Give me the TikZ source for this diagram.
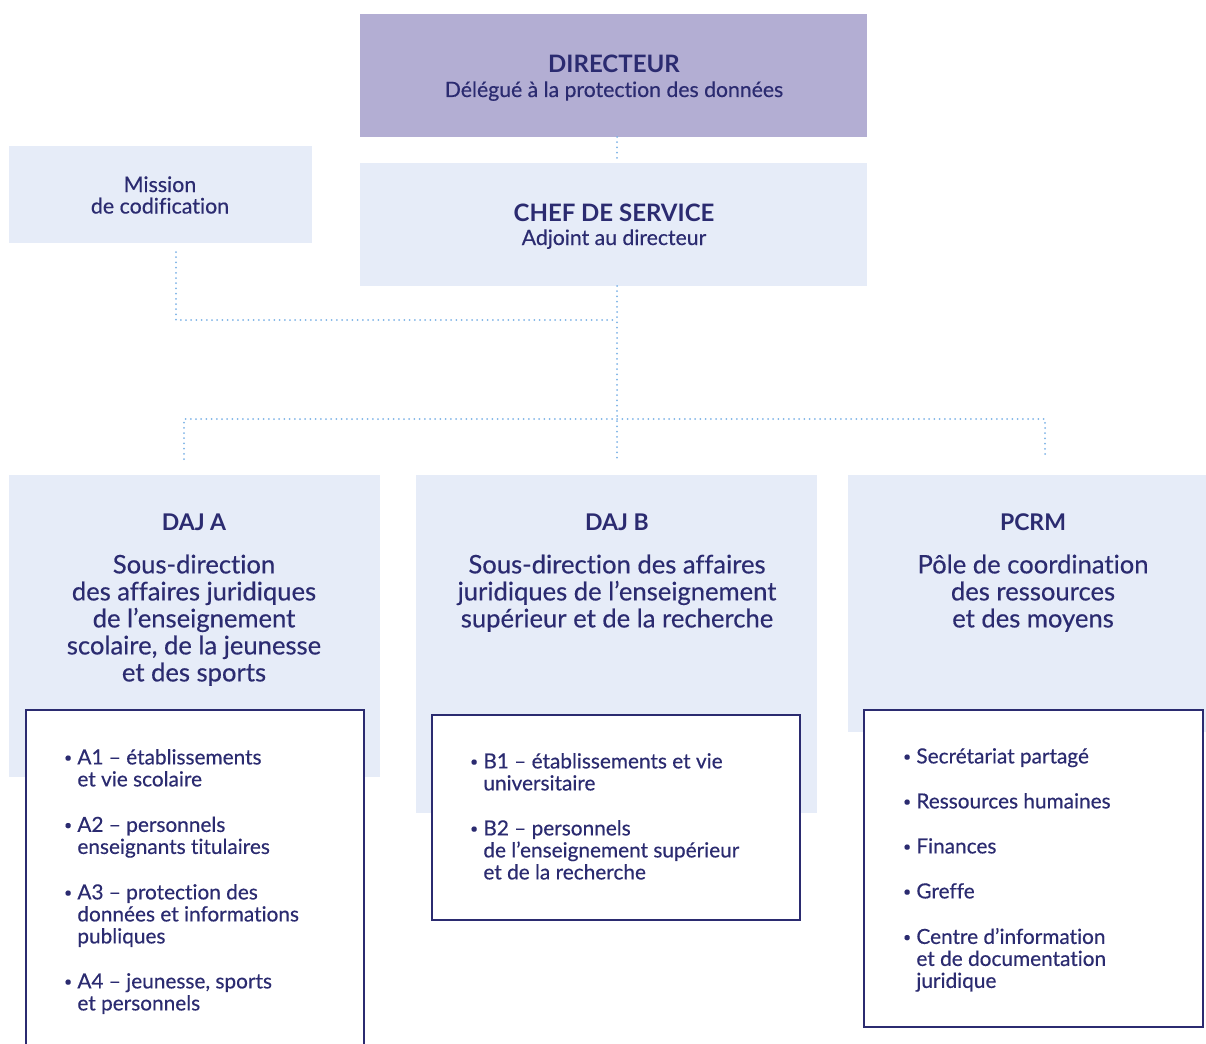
\documentclass[tikz,border=0pt]{standalone}
\usepackage{fontspec}
\setmainfont{Lato}[Ligatures=NoCommon, UprightFeatures={FakeBold=0.4}]
\usetikzlibrary{fit}
\definecolor{navy}{HTML}{2B2B70}
\definecolor{lila}{HTML}{B3AED3}
\definecolor{pale}{HTML}{E6ECF8}
\definecolor{dotblue}{HTML}{7DB3E6}
\newcommand{\bul}{\llap{\raisebox{0.2ex}{\fontsize{7}{7}\selectfont\textbullet}\hspace{2.6pt}}}
\newcommand{\topstrut}{\vrule height 0.7\baselineskip depth 0pt width 0pt\relax}
\newcommand{\tightlines}{\lineskiplimit=-100pt\relax}
\begin{document}
\begin{tikzpicture}[x=0.5pt,y=-0.5pt,
  box/.style={inner sep=0pt, outer sep=0pt},
  palebox/.style={box, fill=pale},
  listbox/.style={box, fill=white, draw=navy, line width=1.25pt},
  dotline/.style={draw=dotblue, line width=1pt, line cap=round, dash pattern=on 0pt off 2.6pt},
  head/.style={text=navy, inner sep=0pt, anchor=base, font=\fontsize{12}{14}\selectfont\bfseries},
  daj/.style={text=navy, inner sep=0pt, anchor=base, font=\fontsize{11.5}{14}\selectfont\bfseries},
  sub/.style={text=navy, inner sep=0pt, anchor=base, font=\fontsize{10.6}{12}\selectfont\mdseries},
  big/.style={text=navy, inner sep=0pt, anchor=north, align=center, font=\fontsize{12.8}{13.5}\selectfont\tightlines},
  item/.style={text=navy, inner sep=0pt, anchor=north west, align=left, font=\fontsize{10.4}{11}\selectfont\tightlines},
]
\useasboundingbox (0,0) rectangle (1206,1044);
\clip (0,0) rectangle (1206,1044);

% top boxes
\node[box, fill=lila, fit={(360,14) (867,137)}] (dir) {};
\node[palebox, fit={(360,163) (867,286)}] (chef) {};
\node[palebox, fit={(9,146) (312,243)}] (mission) {};

\node[head] (dirT) at (614,72) {DIRECTEUR};
\node[sub] (dirS) at (614,97) {Délégué à la protection des données};
\node[head] (chefT) at (614,221) {CHEF DE SERVICE};
\node[sub] (chefS) at (614,245) {Adjoint au directeur};
\node[text=navy, inner sep=0pt, anchor=north, align=center, font=\fontsize{10.7}{10.75}\selectfont\tightlines] (missT) at (160,176) {\topstrut Mission\\de codification};

% connectors
\coordinate (hub) at (617,320);
\coordinate (bus) at (617,419);
\coordinate (m0) at (176,252);
\coordinate (m1) at (176,320);
\coordinate (ea) at (184,459);
\coordinate (eb) at (617,458);
\coordinate (ec) at (1045,459);
\draw[dotline] (dir.south -| hub) -- (chef.north -| hub);
\draw[dotline] (m0) -- (m1) -- (hub);
\draw[dotline] (chef.south -| hub) -- (hub) -- (bus) -- (eb);
\draw[dotline] (ea) |- (bus) -| (ec);

% sub-direction boxes
\node[palebox, fit={(9,475) (380,777)}] (dajA) {};
\node[palebox, fit={(416,475) (817,813)}] (dajB) {};
\node[palebox, fit={(848,475) (1206,732)}] (pcrm) {};

\node[daj] (dajAT) at (194,530) {DAJ A};
\node[big] (dajAS) at (194,554.1) {\topstrut Sous-direction\\des affaires juridiques\\de l’enseignement\\scolaire, de la jeunesse\\et des sports};
\node[daj] (dajBT) at (617,530) {DAJ B};
\node[big] (dajBS) at (617,554.1) {\topstrut Sous-direction des affaires\\juridiques de l’enseignement\\supérieur et de la recherche};
\node[daj] (pcrmT) at (1033,530) {PCRM};
\node[big] (pcrmS) at (1033,554.1) {\topstrut Pôle de coordination\\des ressources\\et des moyens};

% list boxes
\node[listbox, fit={(26,710) (364,1060)}] (listA) {};
\node[listbox, fit={(432,715) (800,920)}] (listB) {};
\node[listbox, fit={(864,710) (1203,1027)}] (listC) {};

\node[item] (a1) at (77,748.6) {\bul\topstrut A1 – établissements\\et vie scolaire};
\node[item] (a2) at (77,816.1) {\bul\topstrut A2 – personnels\\enseignants titulaires};
\node[item] (a3) at (77,883.6) {\bul\topstrut A3 – protection des\\données et informations\\publiques};
\node[item] (a4) at (77,972.6) {\bul\topstrut A4 – jeunesse, sports\\et personnels};

\node[item] (b1) at (483,752.6) {\bul\topstrut B1 – établissements et vie\\universitaire};
\node[item] (b2) at (483,819.6) {\bul\topstrut B2 – personnels\\de l’enseignement supérieur\\et de la recherche};

\node[item] (c1) at (916,747.6) {\bul\topstrut Secrétariat partagé};
\node[item] (c2) at (916,792.6) {\bul\topstrut Ressources humaines};
\node[item] (c3) at (916,837.6) {\bul\topstrut Finances};
\node[item] (c4) at (916,882.6) {\bul\topstrut Greffe};
\node[item] (c5) at (916,927.6) {\bul\topstrut Centre d’information\\et de documentation\\juridique};
\end{tikzpicture}
\end{document}
